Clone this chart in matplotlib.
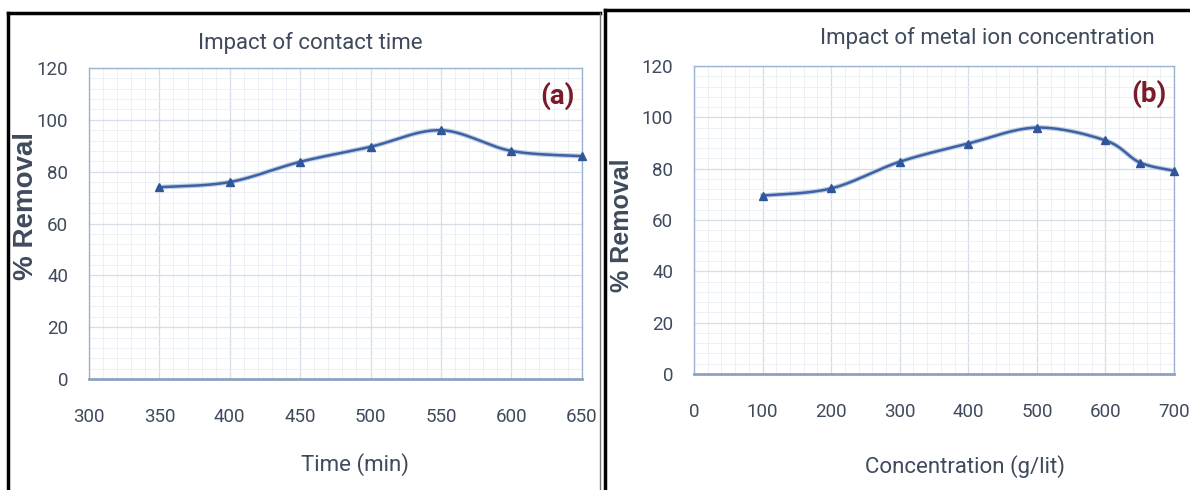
import numpy as np
import matplotlib
matplotlib.use("Agg")
import matplotlib.pyplot as plt
from matplotlib.lines import Line2D
from matplotlib.ticker import MultipleLocator, AutoMinorLocator

# data
time_min = [350, 400, 450, 500, 550, 600, 650]
removal_time = [74.0, 76.0, 83.8, 89.6, 96.0, 88.0, 86.0]

conc = [100, 200, 300, 400, 500, 600, 650, 700]
removal_conc = [69.5, 72.3, 82.7, 89.8, 96.0, 91.0, 82.4, 79.2]

narrow = ['Roboto', 'DejaVu Sans']
txt_col = '#3f4a5c'
line_col = '#3b62a8'

W, H = 1190, 490


def smooth(x, y, n=30):
    # excel-like smoothed line (catmull-rom through the points)
    x = np.asarray(x, float)
    y = np.asarray(y, float)
    px = np.concatenate([[x[0]], x, [x[-1]]])
    py = np.concatenate([[y[0]], y, [y[-1]]])
    xs, ys = [], []
    t = np.linspace(0, 1, n)
    for i in range(1, len(px) - 2):
        p0, p1, p2, p3 = (np.array([px[j], py[j]]) for j in range(i - 1, i + 3))
        c1 = p1 + (p2 - p0) / 6
        c2 = p2 - (p3 - p1) / 6
        pts = ((1 - t) ** 3)[:, None] * p1 + (3 * (1 - t) ** 2 * t)[:, None] * c1 \
            + (3 * (1 - t) * t ** 2)[:, None] * c2 + (t ** 3)[:, None] * p2
        xs.extend(pts[:, 0])
        ys.extend(pts[:, 1])
    return xs, ys


def panel(ax, x, y, xlim, xstep, tag):
    ax.set_xlim(*xlim)
    ax.set_ylim(0, 120)
    ax.xaxis.set_major_locator(MultipleLocator(xstep))
    ax.yaxis.set_major_locator(MultipleLocator(20))
    ax.xaxis.set_minor_locator(AutoMinorLocator(5))
    ax.yaxis.set_minor_locator(AutoMinorLocator(5))
    ax.grid(which='major', color='#d6dde6', lw=0.9)
    ax.grid(which='minor', color='#edf1f5', lw=0.7)
    ax.set_axisbelow(True)
    for s in ['top', 'right', 'left']:
        ax.spines[s].set_color('#9bb3d0')
        ax.spines[s].set_linewidth(1.0)
    ax.spines['bottom'].set_color('#8ea2bf')
    ax.spines['bottom'].set_linewidth(2.0)
    ax.tick_params(which='both', length=0, labelsize=13.5, colors=txt_col)
    ax.tick_params(axis='x', pad=21)
    ax.tick_params(axis='y', pad=15)
    for lab in ax.get_xticklabels() + ax.get_yticklabels():
        lab.set_family(narrow)

    sx, sy = smooth(x, y)
    ax.plot(sx, sy, color='#c5cfdd', lw=3.5, zorder=2, clip_on=False)
    ax.plot(sx, sy, color=line_col, lw=1.8, zorder=3, clip_on=False)
    ax.plot(x, y, ls='none', marker='^', ms=5.5, color='#2f559a', zorder=4, clip_on=False)

    ax.text(0.985, 0.91, tag, transform=ax.transAxes, ha='right', va='center',
            fontsize=20, fontweight='bold', color='#7a1a2a', family=narrow)
    return ax


fig = plt.figure(figsize=(11.9, 4.9), dpi=100)

ax1 = fig.add_axes([0.0748, 0.2265, 0.4140, 0.6347])
panel(ax1, time_min, removal_time, (300, 650), 50, '(a)')
ax2 = fig.add_axes([0.5832, 0.2367, 0.4034, 0.6286])
panel(ax2, conc, removal_conc, (0, 700), 100, '(b)')


def ftext(px, py, s, **kw):
    kw.setdefault('ha', 'center')
    kw.setdefault('va', 'center')
    kw.setdefault('color', txt_col)
    fig.text(px / W, 1 - py / H, s, **kw)


# titles and axis labels placed as in the pasted panels
ftext(310, 43, 'Impact of contact time', fontsize=16, family=narrow)
ftext(987, 38, 'Impact of metal ion concentration', fontsize=16, family=narrow)
ftext(355, 465, 'Time (min)', fontsize=16, family=narrow)
ftext(965, 467, 'Concentration (g/lit)', fontsize=16, family=narrow)
ftext(26, 206, '% Removal', rotation=90, fontsize=20, fontweight='bold',
      family='Liberation Sans')
ftext(622, 225, '% Removal', rotation=90, fontsize=18, fontweight='bold',
      family='Liberation Sans')


# frame lines of the two pasted panels
def seg(x0, y0, x1, y1, col='black', lw=2.5):
    fig.add_artist(Line2D([x0 / W, x1 / W], [1 - y0 / H, 1 - y1 / H], color=col, lw=lw))


seg(8, 13, 600, 13)
seg(8, 13, 8, 490)
seg(600, 13, 600, 490, col='#777777', lw=1.0)
seg(605, 10, 1190, 10)
seg(605, 10, 605, 490)

fig.savefig('out.png', dpi=100)
